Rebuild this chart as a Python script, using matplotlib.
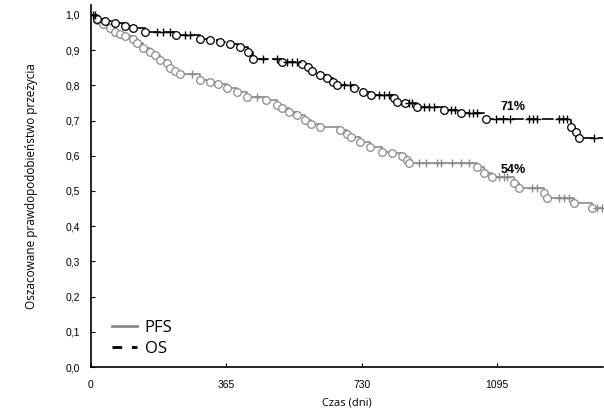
import numpy as np
import matplotlib
matplotlib.use('Agg')
import matplotlib.pyplot as plt
from matplotlib.lines import Line2D
from matplotlib.ticker import FuncFormatter

# OS: czasy zdarzeń (dni) i przeżycie po zdarzeniu
os_czas = [16, 38, 65, 91, 113, 145, 229, 293, 320, 347, 374, 401, 422, 436,
           514, 570, 584, 597, 616, 635, 651, 662, 710, 732, 756, 818, 826,
           845, 880, 952, 998, 1065, 1294, 1307, 1315]
os_surv = [0.989, 0.983, 0.977, 0.969, 0.963, 0.952, 0.943, 0.932, 0.929,
           0.923, 0.918, 0.909, 0.895, 0.875, 0.866, 0.861, 0.852, 0.841,
           0.830, 0.821, 0.810, 0.801, 0.793, 0.781, 0.773, 0.764, 0.753,
           0.750, 0.739, 0.730, 0.722, 0.705, 0.682, 0.668, 0.651]
os_cenz = [5, 10, 178, 194, 213, 253, 266, 463, 500, 527, 541, 554, 683, 697,
           777, 791, 804, 858, 866, 898, 912, 925, 971, 982, 1020, 1030, 1041,
           1092, 1111, 1130, 1181, 1192, 1203, 1262, 1272, 1283, 1356]

# PFS
pfs_czas = [16, 32, 51, 65, 78, 91, 113, 124, 140, 159, 172, 186, 204, 213,
            226, 239, 293, 320, 342, 366, 393, 420, 473, 500, 516, 535, 554,
            576, 594, 616, 670, 689, 702, 724, 751, 785, 812, 837, 853, 858,
            1041, 1060, 1081, 1141, 1154, 1221, 1229, 1302, 1350]
pfs_surv = [0.986, 0.974, 0.963, 0.952, 0.946, 0.940, 0.932, 0.920, 0.906,
            0.895, 0.886, 0.872, 0.864, 0.849, 0.841, 0.832, 0.815, 0.810,
            0.804, 0.793, 0.781, 0.767, 0.759, 0.744, 0.736, 0.724, 0.716,
            0.702, 0.690, 0.682, 0.673, 0.662, 0.653, 0.639, 0.625, 0.611,
            0.608, 0.599, 0.588, 0.580, 0.568, 0.551, 0.540, 0.523, 0.509,
            0.494, 0.480, 0.466, 0.452]
pfs_cenz = [272, 447, 885, 904, 933, 944, 974, 998, 1020, 1100, 1114, 1122,
            1189, 1203, 1262, 1275, 1289, 1364, 1377]

x_ticks = [0, 365, 730, 1095]
x_max = 1380


def km_curve(ax, czas, surv, cenz, kolor, ls):
    t = np.r_[0, czas, x_max]
    s = np.r_[1.0, surv, surv[-1]]
    ax.step(t, s, where='post', color=kolor, lw=1.2, ls=ls, zorder=2)
    ax.plot(czas, surv, 'o', ms=5.5, mfc='white', mec=kolor, mew=0.9,
            ls='none', zorder=3)
    idx = np.searchsorted(t, cenz, side='right') - 1
    ax.plot(cenz, s[idx], '+', ms=6, color=kolor, mew=1.0, ls='none', zorder=3)


fig = plt.figure(figsize=(6.04, 4.11), dpi=100)
ax = fig.add_axes([91 / 604, 1 - 367 / 411, 512 / 604, 362 / 411])

km_curve(ax, pfs_czas, pfs_surv, pfs_cenz, '#8a8a8a', '-')
km_curve(ax, os_czas, os_surv, os_cenz, 'black', (0, (7, 2)))

ax.set_xlim(0, x_max)
ax.set_ylim(0, 1.028)
ax.set_xticks(x_ticks)
ax.set_yticks(np.arange(0, 1.01, 0.1))
ax.yaxis.set_major_formatter(FuncFormatter(lambda v, p: f'{v:.1f}'.replace('.', ',')))
ax.tick_params(direction='in', length=3, width=0.8, labelsize=7.5)
for lab in ax.get_xticklabels() + ax.get_yticklabels():
    lab.set_family('Liberation Sans')
ax.tick_params(axis='y', pad=8)
ax.tick_params(axis='x', pad=9)
for sp in ['top', 'right']:
    ax.spines[sp].set_visible(False)
ax.spines['left'].set_linewidth(1.2)
ax.spines['bottom'].set_linewidth(1.2)

ax.text(1137, 0.737, '71%', fontsize=9, fontweight='bold',
        family='Liberation Sans', ha='center', va='center')
ax.text(1137, 0.56, '54%', fontsize=9, fontweight='bold',
        family='Liberation Sans', ha='center', va='center')

ax.set_xlabel('Czas (dni)', fontsize=8, family='Open Sans', labelpad=6)
ax.set_ylabel('Oszacowane prawdopodobieństwo przeżycia', fontsize=8.5,
              family='Open Sans', labelpad=20)

uchwyty = [Line2D([], [], color='#8a8a8a', lw=2),
           Line2D([], [], color='black', lw=2, ls=(0, (3.5, 3.5)))]
ax.legend(uchwyty, ['PFS', 'OS'], loc='lower left', bbox_to_anchor=(0.015, -0.01),
          frameon=False, prop={'family': 'Open Sans', 'size': 12},
          handlelength=1.5, handletextpad=0.45, labelspacing=0.3, borderpad=0.3)

fig.savefig('out.png', dpi=100)
